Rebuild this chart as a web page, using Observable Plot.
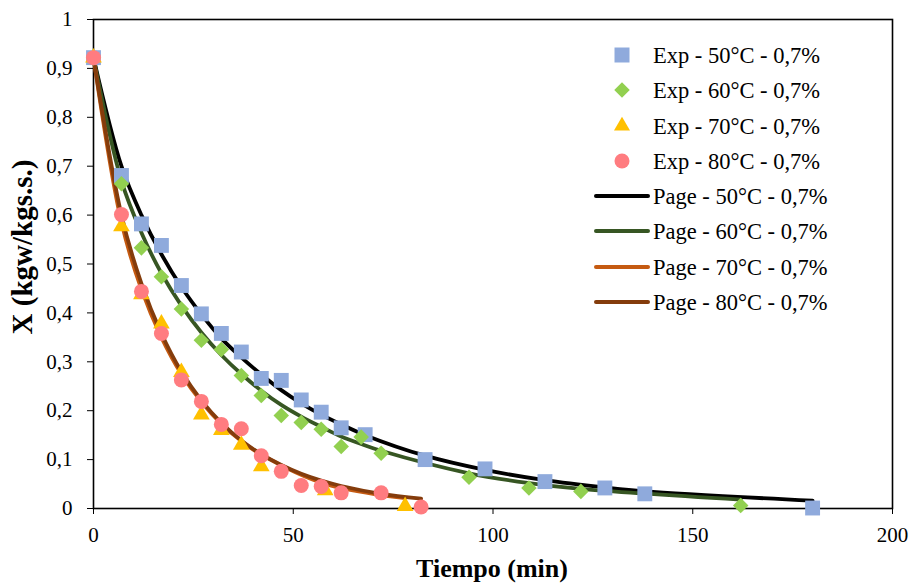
<!DOCTYPE html>
<html><head><meta charset="utf-8">
<script src="https://cdn.jsdelivr.net/npm/d3@7"></script>
<script src="https://cdn.jsdelivr.net/npm/@observablehq/plot@0.6"></script>
<style>body{margin:0;background:#fff} svg{display:block}</style>
</head><body><div id="chart"></div>
<script>
// Experimental data
const tExp50 = [0,7,12,17,22,27,32,37,42,47,52,57,62,68,83,98,113,128,138,180];
const xExp50 = [0.922,0.681,0.582,0.538,0.456,0.398,0.358,0.320,0.266,0.262,0.222,0.197,0.165,0.151,0.100,0.081,0.055,0.042,0.030,0.001];
const tExp60 = [0,7,12,17,22,27,32,37,42,47,52,57,62,67,72,94,109,122,162];
const xExp60 = [0.922,0.664,0.533,0.474,0.408,0.344,0.325,0.272,0.231,0.190,0.176,0.162,0.127,0.146,0.113,0.064,0.042,0.035,0.006];
const tExp70 = [0,7,12,17,22,27,32,37,42,58,78];
const xExp70 = [0.922,0.577,0.438,0.378,0.279,0.192,0.160,0.130,0.086,0.037,0.005];
const tExp80 = [0,7,12,17,22,27,32,37,42,47,52,57,62,72,82];
const xExp80 = [0.922,0.601,0.444,0.358,0.263,0.219,0.172,0.163,0.108,0.076,0.047,0.045,0.032,0.032,0.003];
// Page model curves
const tPage50 = [0,7,12,17,22,27,32,37,42,47,52,57,62,68,83,98,113,128,138,180];
const xPage50 = [0.922,0.700,0.600,0.520,0.453,0.397,0.348,0.309,0.274,0.242,0.215,0.192,0.172,0.150,0.108,0.079,0.058,0.043,0.035,0.016];
const tPage60 = [0,7,12,17,22,27,32,37,42,47,52,57,62,67,72,94,109,122,162];
const xPage60 = [0.922,0.670,0.564,0.481,0.415,0.360,0.314,0.275,0.241,0.212,0.188,0.167,0.147,0.132,0.118,0.072,0.052,0.040,0.018];
const tPage70 = [0,7,12,17,22,27,32,37,42,58,78];
const xPage70 = [0.922,0.585,0.448,0.350,0.275,0.218,0.173,0.138,0.110,0.050,0.021];
const tPage80 = [0,7,12,17,22,27,32,37,42,47,52,57,62,72,82];
const xPage80 = [0.922,0.600,0.460,0.358,0.280,0.221,0.175,0.139,0.111,0.089,0.071,0.057,0.046,0.030,0.020];

const xTicks = [0,50,100,150,200];
const yTicks = [0,0.1,0.2,0.3,0.4,0.5,0.6,0.7,0.8,0.9,1];
const legendLabels = ["Exp - 50°C - 0,7%","Exp - 60°C - 0,7%","Exp - 70°C - 0,7%","Exp - 80°C - 0,7%",
  "Page - 50°C - 0,7%","Page - 60°C - 0,7%","Page - 70°C - 0,7%","Page - 80°C - 0,7%"];
const expColors = ["#8FAADC","#92D050","#FFC000","#FF7C80"];
const pageColors = ["#000000","#375623","#C55A11","#843C0C"];

const rows = (ts, xs) => ts.map((t, i) => ({t, X: xs[i]}));
const fmt = d => (d === 0 || d === 1) ? String(d) : d.toFixed(1).replace(".", ",");
const font = "'Liberation Serif','Times New Roman',serif";

const chart = Plot.plot({
  width: 912, height: 585,
  marginLeft: 93, marginRight: 20, marginTop: 19, marginBottom: 77,
  style: {fontFamily: font, fontSize: "21px", color: "#000", background: "#fff"},
  x: {domain: [0, 200]},
  y: {domain: [0, 1]},
  marks: [
    Plot.axisX({ticks: xTicks, tickSize: 6, tickPadding: 13, label: null, tickFormat: d => String(d)}),
    Plot.axisY({ticks: yTicks, tickSize: 6, tickPadding: 15, label: null, tickFormat: fmt}),
    Plot.frame({stroke: "#000", strokeWidth: 1.6}),
    Plot.line(rows(tPage50, xPage50), {x: "t", y: "X", stroke: pageColors[0], strokeWidth: 3.8, curve: "catmull-rom"}),
    Plot.line(rows(tPage60, xPage60), {x: "t", y: "X", stroke: pageColors[1], strokeWidth: 3.8, curve: "catmull-rom"}),
    Plot.line(rows(tPage70, xPage70), {x: "t", y: "X", stroke: pageColors[2], strokeWidth: 3.8, curve: "catmull-rom"}),
    Plot.line(rows(tPage80, xPage80), {x: "t", y: "X", stroke: pageColors[3], strokeWidth: 3.8, curve: "catmull-rom"}),
    Plot.dot(rows(tExp50, xExp50), {x: "t", y: "X", symbol: "square", r: 8.4, fill: expColors[0]}),
    Plot.dot(rows(tExp60, xExp60), {x: "t", y: "X", symbol: "diamond2", r: 7, fill: expColors[1]}),
    Plot.dot(rows(tExp70, xExp70), {x: "t", y: "X", symbol: "triangle", r: 6.2, fill: expColors[2]}),
    Plot.dot(rows(tExp80, xExp80), {x: "t", y: "X", symbol: "circle", r: 7.5, fill: expColors[3]})
  ]
});
document.getElementById("chart").appendChild(chart);

const svg = d3.select(chart);
// axis titles
svg.append("text").attr("x", 492).attr("y", 577).attr("text-anchor", "middle")
  .attr("font-family", font).attr("font-size", 26).attr("font-weight", "bold").text("Tiempo (min)");
svg.append("text").attr("transform", "translate(32,247) rotate(-90)").attr("text-anchor", "middle")
  .attr("font-family", font).attr("font-size", 29).attr("font-weight", "bold").text("X (kgw/kgs.s.)");

// legend
const lg = svg.append("g").attr("font-family", font).attr("font-size", 22.5).attr("text-anchor", "start");
const rowY = [55, 90, 126, 161, 196, 231, 267, 302];
const syms = [[d3.symbolSquare, 225], [d3.symbolDiamond2, 154], [d3.symbolTriangle, 111], [d3.symbolCircle, 177]];
legendLabels.forEach((lab, i) => {
  const y = rowY[i];
  if (i < 4) {
    lg.append("path").attr("transform", `translate(622,${y})`)
      .attr("d", d3.symbol(syms[i][0], syms[i][1])()).attr("fill", expColors[i]);
  } else {
    lg.append("line").attr("x1", 596).attr("x2", 648).attr("y1", y).attr("y2", y)
      .attr("stroke", pageColors[i - 4]).attr("stroke-width", 4).attr("stroke-linecap", "round");
  }
  lg.append("text").attr("x", 653).attr("y", y).attr("dy", "0.35em").attr("text-anchor", "start").text(lab);
});
</script></body></html>
